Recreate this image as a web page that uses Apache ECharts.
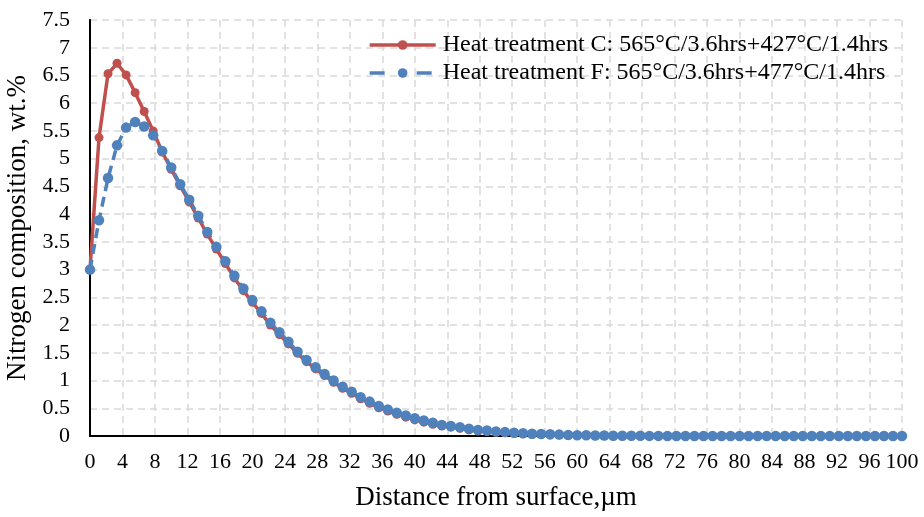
<!DOCTYPE html>
<html>
<head>
<meta charset="utf-8">
<script src="https://cdn.jsdelivr.net/npm/echarts@6/dist/echarts.min.js"></script>
<style>
html,body{margin:0;padding:0;background:#fff;}
#chart{width:924px;height:517px;}
</style>
</head>
<body>
<div id="chart"></div>
<script>
var distances = [0,1.11,2.22,3.33,4.44,5.56,6.67,7.78,8.89,10,
11.11,12.22,13.33,14.44,15.56,16.67,17.78,18.89,20,21.11,
22.22,23.33,24.44,25.56,26.67,27.78,28.89,30,31.11,32.22,
33.33,34.44,35.56,36.67,37.78,38.89,40,41.11,42.22,43.33,
44.44,45.56,46.67,47.78,48.89,50,51.11,52.22,53.33,54.44,
55.56,56.67,57.78,58.89,60,61.11,62.22,63.33,64.44,65.56,
66.67,67.78,68.89,70,71.11,72.22,73.33,74.44,75.56,76.67,
77.78,78.89,80,81.11,82.22,83.33,84.44,85.56,86.67,87.78,
88.89,90,91.11,92.22,93.33,94.44,95.56,96.67,97.78,98.89,100];

var nitrogenC = [3.00,5.38,6.53,6.72,6.51,6.19,5.85,5.50,5.12,4.81,
4.51,4.22,3.93,3.64,3.37,3.11,2.85,2.62,2.41,2.21,
2.00,1.83,1.66,1.49,1.34,1.21,1.09,0.97,0.86,0.77,
0.67,0.59,0.51,0.45,0.39,0.34,0.29,0.25,0.21,0.18,
0.16,0.14,0.11,0.09,0.08,0.07,0.06,0.05,0.04,0.03,
0.03,0.02,0.02,0.01,0.01,0.01,0.005,0.005,0,0,
0,0,0,0,0,0,0,0,0,0,
0,0,0,0,0,0,0,0,0,0,
0,0,0,0,0,0,0,0,0,0,0];

var nitrogenF = [3.00,3.89,4.65,5.24,5.56,5.66,5.58,5.42,5.14,4.84,
4.54,4.26,3.97,3.68,3.41,3.15,2.89,2.66,2.45,2.25,
2.04,1.87,1.70,1.52,1.37,1.24,1.12,1.00,0.89,0.80,
0.70,0.62,0.54,0.48,0.42,0.37,0.32,0.28,0.24,0.20,
0.18,0.16,0.13,0.11,0.10,0.08,0.07,0.06,0.05,0.04,
0.035,0.03,0.025,0.02,0.015,0.012,0.01,0.008,0.006,0.005,
0.004,0.003,0.002,0.002,0.001,0.001,0,0,0,0,
0,0,0,0,0,0,0,0,0,0,
0,0,0,0,0,0,0,0,0,0,0];

var seriesNames = [
  'Heat treatment C: 565°C/3.6hrs+427°C/1.4hrs',
  'Heat treatment F: 565°C/3.6hrs+477°C/1.4hrs'
];
var xTitle = 'Distance from surface,µm';
var yTitle = 'Nitrogen composition, wt.%';

function pairs(xs, ys){ return xs.map(function(x,i){ return [x, ys[i]]; }); }

var FONT = '"Liberation Serif","Times New Roman",serif';
var chart = echarts.init(document.getElementById('chart'), null, {renderer:'canvas'});
var gridDash = {color:'#d9d9d9', width:1.5, type:[7,5]};
chart.setOption({
  animation:false,
  backgroundColor:'#fff',
  textStyle:{fontFamily:FONT, color:'#000'},
  grid:{left:90, right:22, top:20, bottom:81, containLabel:false, outerBoundsMode:'none'},
  legend:{
    orient:'vertical', right:31, top:28, itemGap:4,
    itemWidth:66, itemHeight:12,
    textStyle:{fontFamily:FONT, fontSize:24, color:'#000', padding:[0,0,0,2]},
    data:[
      {name:seriesNames[0], lineStyle:{width:3.5}},
      {name:seriesNames[1], lineStyle:{width:3.5, type:[15,32]}}
    ]
  },
  xAxis:[{
    type:'value', min:0, max:100, interval:4,
    name:xTitle, nameLocation:'middle', nameGap:48,
    nameTextStyle:{fontFamily:FONT, fontSize:27, color:'#000'},
    axisLine:{show:true, onZero:false, lineStyle:{color:'#000', width:2}},
    axisTick:{show:false},
    axisLabel:{fontFamily:FONT, fontSize:22, color:'#000', margin:15},
    splitLine:{show:true, lineStyle:gridDash}
  },{
    type:'value', min:0, max:100, position:'top',
    axisLine:{show:false}, axisTick:{show:false}, axisLabel:{show:false}, splitLine:{show:false}
  }],
  yAxis:[{
    type:'value', min:0, max:7.5, interval:0.5,
    name:yTitle, nameLocation:'middle', nameGap:51, nameRotate:90,
    nameTextStyle:{fontFamily:FONT, fontSize:27, color:'#000'},
    axisLine:{show:true, onZero:false, lineStyle:{color:'#000', width:2}},
    axisTick:{show:false},
    axisLabel:{fontFamily:FONT, fontSize:22, color:'#000', margin:20},
    splitLine:{show:true, lineStyle:gridDash}
  },{
    type:'value', min:0, max:7.5, position:'right',
    axisLine:{show:true, lineStyle:{color:'#000', width:1.5}},
    axisTick:{show:false}, axisLabel:{show:false}, splitLine:{show:false}
  }],
  series:[{
    name:seriesNames[0], type:'line', data:pairs(distances, nitrogenC),
    symbol:'circle', symbolSize:9, showAllSymbol:true,
    itemStyle:{color:'#C0504D'},
    lineStyle:{color:'#C0504D', width:3.5}
  },{
    name:seriesNames[1], type:'line', data:pairs(distances, nitrogenF),
    symbol:'circle', symbolSize:10.5, showAllSymbol:true,
    itemStyle:{color:'#4F81BD'},
    lineStyle:{color:'#4F81BD', width:3.5, type:[10,6]}
  }]
});
</script>
</body>
</html>
